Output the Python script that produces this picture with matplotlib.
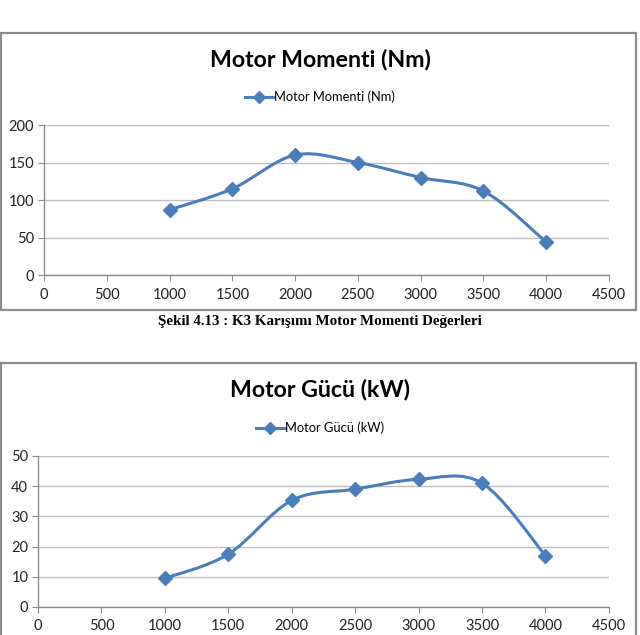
import numpy as np
import matplotlib
matplotlib.use("Agg")
import matplotlib.pyplot as plt
from matplotlib.path import Path
from matplotlib.patches import PathPatch, Rectangle
from matplotlib.lines import Line2D

rpm = [1000, 1500, 2000, 2500, 3000, 3500, 4000]
moment_nm = [87, 115, 160, 150, 130, 112, 44]
power_kw = [9.5, 17.5, 35.3, 39, 42.3, 41, 17]

title_top = "Motor Momenti (Nm)"
title_bottom = "Motor Gücü (kW)"
caption = "Şekil 4.13 : K3 Karışımı Motor Momenti Değerleri"
xticks = [0, 500, 1000, 1500, 2000, 2500, 3000, 3500, 4000, 4500]

BLUE = "#4A7EBB"
GRID = "#BEBEBE"
FONT = "Lato"

fig = plt.figure(figsize=(6.4, 6.35), dpi=100)

def smooth_path(xs, ys):
    # Excel-like smoothed line drawn as cubic Bezier segments through the points
    xs = np.asarray(xs, float); ys = np.asarray(ys, float)
    n = len(xs)
    verts = [(xs[0], ys[0])]
    codes = [Path.MOVETO]
    for i in range(n - 1):
        p0 = (xs[i-1], ys[i-1]) if i > 0 else (xs[i], ys[i])
        p1 = (xs[i], ys[i]); p2 = (xs[i+1], ys[i+1])
        p3 = (xs[i+2], ys[i+2]) if i + 2 < n else p2
        c1 = (p1[0] + (p2[0]-p0[0])/6, p1[1] + (p2[1]-p0[1])/6)
        c2 = (p2[0] - (p3[0]-p1[0])/6, p2[1] - (p3[1]-p1[1])/6)
        verts += [c1, c2, p2]
        codes += [Path.CURVE4]*3
    return Path(verts, codes)

def chart(rect, ys, ymax, ystep, title, label, box, title_y, legend_y):
    fig.patches.append(Rectangle((box[0], box[1]), box[2], box[3], transform=fig.transFigure,
                                 fill=False, edgecolor="#8C8C8C", linewidth=1.6, zorder=0))
    ax = fig.add_axes(rect)
    ax.set_xlim(0, 4500)
    ax.set_ylim(0, ymax)
    ax.set_xticks(xticks)
    ax.set_yticks(np.arange(0, ymax + 1, ystep))
    ax.grid(axis="y", color=GRID, linewidth=1.0)
    ax.set_axisbelow(True)
    for s in ["top", "right"]:
        ax.spines[s].set_visible(False)
    for s in ["left", "bottom"]:
        ax.spines[s].set_color("#8C8C8C")
        ax.spines[s].set_linewidth(1.0)
    ax.tick_params(axis="both", direction="out", length=4, color="#8C8C8C", labelsize=10.5,
                   labelcolor="#222222")
    ax.tick_params(axis="x", pad=5)
    ax.tick_params(axis="y", pad=3)
    for t in ax.get_xticklabels() + ax.get_yticklabels():
        t.set_fontfamily(FONT)
    ax.add_patch(PathPatch(smooth_path(rpm, ys), facecolor="none", edgecolor=BLUE,
                           linewidth=2.2, zorder=3))
    ax.plot(rpm, ys, linestyle="none", marker="D", markersize=7.5, color=BLUE, zorder=4)
    fig.text(0.5, title_y, title, ha="center", va="center", fontsize=16.7, fontweight="bold",
             fontfamily=FONT, color="black")
    h = Line2D([], [], color=BLUE, linewidth=2.2, marker="D", markersize=6)
    fig.legend([h], [label], loc="center", bbox_to_anchor=(0.5, legend_y), frameon=False,
               prop={"family": FONT, "size": 9.3}, handlelength=2.2, handletextpad=0.1)
    return ax

chart([0.06875, 0.5669, 0.8828, 0.2362], moment_nm, 200, 50, title_top, title_top,
      (0.0016, 0.5118, 0.992, 0.436), 1 - 60/635, 1 - 97/635)
chart([0.0594, 0.0441, 0.892, 0.2378], power_kw, 50, 10, title_bottom, title_bottom,
      (0.0016, -0.05, 0.992, 0.4783), 1 - 390/635, 1 - 428/635)

fig.text(0.5, 1 - 321/635, caption, ha="center", va="center", fontsize=10.8,
         fontweight="bold", fontfamily="Liberation Serif")

fig.savefig("out.png", dpi=100, facecolor="white")
